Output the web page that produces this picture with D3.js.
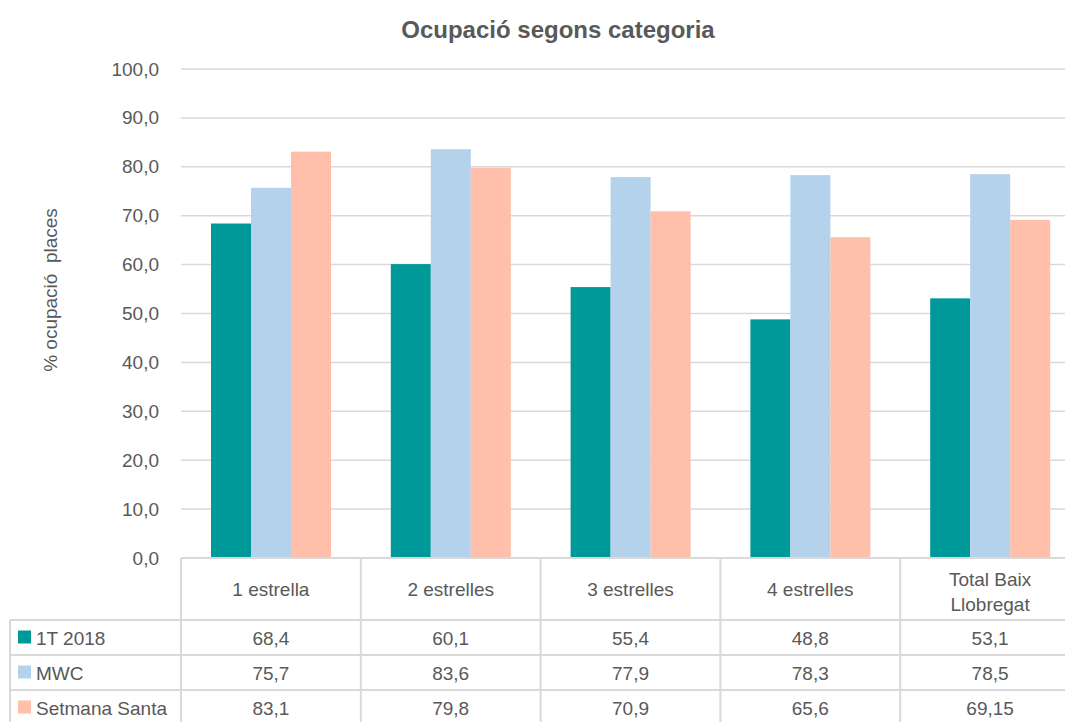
<!DOCTYPE html>
<html>
<head>
<meta charset="utf-8">
<script src="https://cdn.jsdelivr.net/npm/d3@7"></script>
<style>
  body { margin: 0; background: #fff; }
  svg text { font-family: "Liberation Sans Narrow", "Arial Narrow", "Liberation Sans", sans-serif; fill: #595959; }
</style>
</head>
<body>
<div id="graph"></div>
<script>
// chart data
var categories = ["1 estrella", "2 estrelles", "3 estrelles", "4 estrelles", "Total Baix Llobregat"];
var seriesNames = ["1T 2018", "MWC", "Setmana Santa"];
var serie1T = [68.4, 60.1, 55.4, 48.8, 53.1];
var serieMWC = [75.7, 83.6, 77.9, 78.3, 78.5];
var serieSS = [83.1, 79.8, 70.9, 65.6, 69.15];
var tableLabels = [
  ["68,4", "60,1", "55,4", "48,8", "53,1"],
  ["75,7", "83,6", "77,9", "78,3", "78,5"],
  ["83,1", "79,8", "70,9", "65,6", "69,15"]
];
var yTicks = [0, 10, 20, 30, 40, 50, 60, 70, 80, 90, 100];
var colors = ["#009999", "#b4d2ec", "#ffbfaa"];

var width = 1065, height = 722;
var plotLeft = 181, plotRight = 1080, plotTop = 69, plotBottom = 558;

var svg = d3.select("#graph").append("svg")
  .attr("width", width).attr("height", height);

var series = [serie1T, serieMWC, serieSS];

var x = d3.scaleBand().domain(categories).range([plotLeft, plotRight]);
var y = d3.scaleLinear().domain([0, 100]).range([plotBottom, plotTop]);
var xs = d3.scaleBand().domain(d3.range(3)).range([30, 150]);

// title
svg.append("text").attr("x", 558).attr("y", 38)
  .attr("text-anchor", "middle").attr("font-size", 24).attr("font-weight", "bold")
  .text("Ocupació segons categoria");

// gridlines
svg.append("g").selectAll("line").data(yTicks.slice(1)).enter().append("line")
  .attr("x1", plotLeft).attr("x2", plotRight)
  .attr("y1", function(d) { return y(d); }).attr("y2", function(d) { return y(d); })
  .attr("stroke", "#d9d9d9").attr("stroke-width", 1.5);

// y axis labels
var yAxis = d3.axisLeft(y).tickValues(yTicks).tickSize(0).tickPadding(22)
  .tickFormat(function(d) { return d3.format(".1f")(d).replace(".", ","); });
var ya = svg.append("g").attr("transform", "translate(" + plotLeft + ",0)").call(yAxis);
ya.select(".domain").remove();
ya.selectAll("text").attr("font-size", 19).style("fill", "#595959")
  .style("font-family", "'Liberation Sans Narrow', 'Arial Narrow', sans-serif");

svg.append("text")
  .attr("transform", "translate(57,290) rotate(-90)")
  .attr("text-anchor", "middle").attr("font-size", 19)
  .attr("xml:space", "preserve")
  .text("% ocupació  places");

// bars
series.forEach(function(vals, s) {
  svg.append("g").selectAll("rect").data(vals).enter().append("rect")
    .attr("x", function(d, i) { return x(categories[i]) + xs(s); })
    .attr("width", xs.bandwidth())
    .attr("y", function(d) { return y(d); })
    .attr("height", function(d) { return plotBottom - y(d); })
    .attr("fill", colors[s]);
});

// data table
var rowTops = [plotBottom, 620, 655, 690, 725];
var tbl = svg.append("g");
var lineColor = "#d9d9d9";
// horizontal lines
tbl.append("line").attr("x1", plotLeft).attr("x2", plotRight).attr("y1", plotBottom).attr("y2", plotBottom)
  .attr("stroke", lineColor).attr("stroke-width", 2);
[620, 655, 690].forEach(function(yy) {
  tbl.append("line").attr("x1", 10).attr("x2", plotRight).attr("y1", yy).attr("y2", yy)
    .attr("stroke", lineColor).attr("stroke-width", 2);
});
// vertical lines
categories.forEach(function(c) {
  tbl.append("line").attr("x1", x(c)).attr("x2", x(c)).attr("y1", plotBottom).attr("y2", height)
    .attr("stroke", lineColor).attr("stroke-width", 2);
});
tbl.append("line").attr("x1", 10).attr("x2", 10).attr("y1", 620).attr("y2", height)
  .attr("stroke", lineColor).attr("stroke-width", 2);

// header labels
categories.forEach(function(c) {
  var cx = x(c) + x.bandwidth() / 2;
  if (c === "Total Baix Llobregat") {
    tbl.append("text").attr("x", cx).attr("y", 586).attr("text-anchor", "middle")
      .attr("font-size", 19).text("Total Baix");
    tbl.append("text").attr("x", cx).attr("y", 611).attr("text-anchor", "middle")
      .attr("font-size", 19).text("Llobregat");
  } else {
    tbl.append("text").attr("x", cx).attr("y", 596).attr("text-anchor", "middle")
      .attr("font-size", 19).text(c);
  }
});

// rows
seriesNames.forEach(function(name, s) {
  var cy = (rowTops[s + 1] + rowTops[s + 2]) / 2;
  tbl.append("rect").attr("x", 18).attr("y", cy - 7).attr("width", 13).attr("height", 13)
    .attr("fill", colors[s]);
  tbl.append("text").attr("x", 36).attr("y", cy + 7).attr("font-size", 19).text(name);
  tableLabels[s].forEach(function(v, i) {
    tbl.append("text").attr("x", x(categories[i]) + x.bandwidth() / 2).attr("y", cy + 7)
      .attr("text-anchor", "middle").attr("font-size", 19).text(v);
  });
});
</script>
</body>
</html>
